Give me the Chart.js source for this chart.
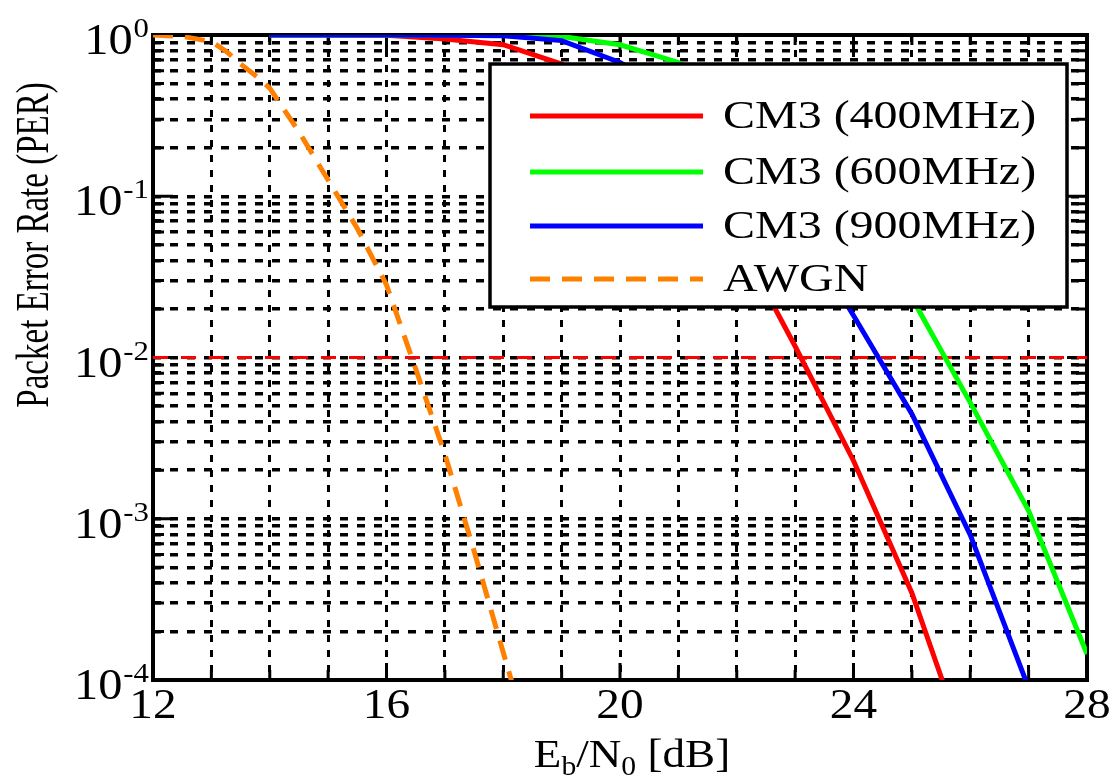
<!DOCTYPE html>
<html>
<head>
<meta charset="utf-8">
<script src="https://cdn.jsdelivr.net/npm/chart.js@4.4.1/dist/chart.umd.min.js"></script>
<style>
  html, body { margin: 0; padding: 0; background: #fff; }
  canvas { display: block; }
</style>
</head>
<body>
<canvas id="perChart" width="1111" height="784"></canvas>
<script>
// Eb/N0 [dB] axis
const xTicks = [12, 16, 20, 24, 28];
const xMin = 12;
const xMax = 28;

// PER axis (decades and their exponent labels)
const yDecades = [1, 0.1, 0.01, 0.001, 0.0001];
const yExponents = ['0', '-1', '-2', '-3', '-4'];

// AWGN curve
const awgnEbN0 = [12, 12.5, 13, 13.25, 13.5, 13.75, 14, 14.5, 15, 15.5, 16, 16.5, 17, 17.5, 18, 18.5];
const awgnPer = [1, 0.98, 0.91, 0.794, 0.661, 0.562, 0.468, 0.251, 0.126, 0.0631, 0.0282, 0.00851, 0.00251, 0.000631, 0.000148, 0.0000355];

// CM3 curves
const cmEbN0 = [14, 15, 16, 17, 18, 19, 20, 21, 22, 23, 24, 25, 26, 27, 28];
const cm400 = [1, 1, 0.995, 0.944, 0.871, 0.66, 0.398, 0.178, 0.0562, 0.01175, 0.00229, 0.000347, 0.0000316, null, null];
const cm600 = [1, 1, 1, 1, 0.998, 0.98, 0.87, 0.676, 0.38, 0.178, 0.0708, 0.0234, 0.00525, 0.00112, 0.000145];
const cm900 = [1, 1, 1, 0.998, 0.99, 0.923, 0.676, 0.417, 0.2, 0.0708, 0.0182, 0.00447, 0.000794, 0.0000891, 0.000008];

// target PER line
const targetPer = 0.01;

const labels = ['CM3 (400MHz)', 'CM3 (600MHz)', 'CM3 (900MHz)', 'AWGN'];
const colors = ['#ff0000', '#00ff00', '#0000ff', '#ff8000'];

const FONT = "'Liberation Serif', 'Times New Roman', serif";
const awgnDash = [20, 12];

function pts(xs, ys) {
    return xs.map((x, i) => ({ x: x, y: ys[i] }));
}

// minor log grid: 1..9 in each decade
const yGrid = [];
yDecades.forEach(d => {
    if (d === 1) { yGrid.push(1); return; }
    for (let m = 1; m <= 9; m++) yGrid.push(m * d);
});

// text drawn a bit wider than the font, like the source picture
function wideText(ctx, txt, x, y, font, hs, align) {
    ctx.save();
    ctx.font = font;
    ctx.translate(x, y);
    ctx.scale(hs, 1);
    ctx.textAlign = align || 'left';
    ctx.fillText(txt, 0, 0);
    ctx.restore();
}
function wideWidth(ctx, txt, font, hs) {
    ctx.save();
    ctx.font = font;
    const w = ctx.measureText(txt).width * hs;
    ctx.restore();
    return w;
}

const framePlugin = {
    id: 'frame',
    beforeDatasetsDraw(chart) {
        const ctx = chart.ctx;
        const a = chart.chartArea;
        const xs = chart.scales.x, ys = chart.scales.y;
        ctx.save();
        ctx.strokeStyle = '#000';
        ctx.lineWidth = 3;
        // inward ticks on all four sides
        xs.ticks.forEach(t => {
            const px = xs.getPixelForValue(t.value);
            const len = xTicks.includes(t.value) ? 17 : 10;
            ctx.beginPath();
            ctx.moveTo(px, a.bottom); ctx.lineTo(px, a.bottom - len);
            ctx.moveTo(px, a.top); ctx.lineTo(px, a.top + len);
            ctx.stroke();
        });
        ys.ticks.forEach(t => {
            const py = ys.getPixelForValue(t.value);
            const major = yDecades.some(d => Math.abs(d - t.value) < d * 1e-6);
            const len = major ? 20 : 11;
            ctx.beginPath();
            ctx.moveTo(a.left, py); ctx.lineTo(a.left + len, py);
            ctx.moveTo(a.right, py); ctx.lineTo(a.right - len, py);
            ctx.stroke();
        });
        ctx.lineWidth = 4;
        ctx.strokeRect(a.left, a.top, a.right - a.left, a.bottom - a.top);
        ctx.restore();
    },
    afterDatasetsDraw(chart) {
        // legend box
        const ctx = chart.ctx;
        const bx = 490, by = 64, bw = 577, bh = 243;
        ctx.save();
        ctx.fillStyle = '#fff';
        ctx.fillRect(bx, by, bw, bh);
        ctx.strokeStyle = '#000';
        ctx.lineWidth = 3.5;
        ctx.strokeRect(bx, by, bw, bh);
        const rows = [116, 172, 226, 279];
        labels.forEach((lab, i) => {
            const y = rows[i];
            ctx.beginPath();
            ctx.strokeStyle = colors[i];
            ctx.lineWidth = 5;
            ctx.setLineDash(i === 3 ? awgnDash : []);
            ctx.moveTo(530, y); ctx.lineTo(703, y);
            ctx.stroke();
            ctx.setLineDash([]);
            ctx.fillStyle = '#000';
            ctx.textBaseline = 'middle';
            wideText(ctx, lab, 723, y + 1, '41px ' + FONT, 1.17, 'left');
        });
        ctx.restore();
    },
    afterDraw(chart) {
        const ctx = chart.ctx;
        const xs = chart.scales.x, ys = chart.scales.y;
        ctx.save();
        ctx.fillStyle = '#000';
        // x tick labels
        ctx.textBaseline = 'middle';
        xTicks.forEach(v => {
            wideText(ctx, String(v), xs.getPixelForValue(v), 707, '43px ' + FONT, 1.1, 'center');
        });
        // y tick labels 10^k
        ctx.textBaseline = 'alphabetic';
        yDecades.forEach((d, i) => {
            const py = ys.getPixelForValue(d);
            const expFont = '28px ' + FONT;
            const ew = wideWidth(ctx, yExponents[i], expFont, 1.1);
            wideText(ctx, yExponents[i], 149, py + 2, expFont, 1.1, 'right');
            wideText(ctx, '10', 148 - ew, py + 19, '44px ' + FONT, 1.1, 'right');
        });
        // x title: Eb/N0 [dB]
        const big = '41px ' + FONT, sub = '27px ' + FONT, hs = 1.1;
        const parts = [['E', big, 0], ['b', sub, 8], ['/N', big, 0], ['0', sub, 8], [' [dB]', big, 0]];
        let total = 0;
        parts.forEach(p => { total += wideWidth(ctx, p[0], p[1], hs); });
        let x = 632 - total / 2;
        parts.forEach(p => {
            wideText(ctx, p[0], x, 767 + p[2], p[1], hs, 'left');
            x += wideWidth(ctx, p[0], p[1], hs);
        });
        // y title
        ctx.save();
        ctx.translate(36, 245);
        ctx.scale(1.4, 1);
        ctx.rotate(-Math.PI / 2);
        ctx.font = '33px ' + FONT;
        ctx.textAlign = 'center';
        ctx.textBaseline = 'middle';
        ctx.fillText('Packet Error Rate (PER)', 0, 0);
        ctx.restore();
        ctx.restore();
    }
};

const ctx = document.getElementById('perChart').getContext('2d');
new Chart(ctx, {
    type: 'line',
    data: {
        datasets: [
            { label: labels[0], data: pts(cmEbN0, cm400), borderColor: colors[0], borderWidth: 5, order: 3 },
            { label: labels[1], data: pts(cmEbN0, cm600), borderColor: colors[1], borderWidth: 5, order: 2 },
            { label: labels[2], data: pts(cmEbN0, cm900), borderColor: colors[2], borderWidth: 5, order: 1 },
            { label: labels[3], data: pts(awgnEbN0, awgnPer), borderColor: colors[3], borderWidth: 5, borderDash: awgnDash, order: 0 },
            { label: 'target', data: [{ x: xMin, y: targetPer }, { x: xMax, y: targetPer }], borderColor: '#ff0000', borderWidth: 3, borderDash: [15, 13], order: 10 }
        ]
    },
    options: {
        responsive: false,
        animation: false,
        devicePixelRatio: 1,
        layout: { padding: { top: 35, right: 24, left: 0, bottom: 0 } },
        elements: { point: { radius: 0 }, line: { tension: 0, fill: false } },
        scales: {
            x: {
                type: 'linear',
                min: xMin,
                max: xMax,
                ticks: { display: false, stepSize: 1 },
                grid: { color: '#000', lineWidth: 3, drawTicks: false },
                border: { display: false, dash: [7, 8] },
                afterFit: s => { s.height = 104; }
            },
            y: {
                type: 'logarithmic',
                min: 0.0001,
                max: 1,
                ticks: { display: false },
                afterBuildTicks: s => { s.ticks = yGrid.map(v => ({ value: v })); },
                grid: { color: '#000', lineWidth: 3.5, drawTicks: false },
                border: { display: false, dash: [8, 9] },
                afterFit: s => { s.width = 153; }
            }
        },
        plugins: {
            legend: { display: false },
            tooltip: { enabled: false }
        }
    },
    plugins: [framePlugin]
});
</script>
</body>
</html>
